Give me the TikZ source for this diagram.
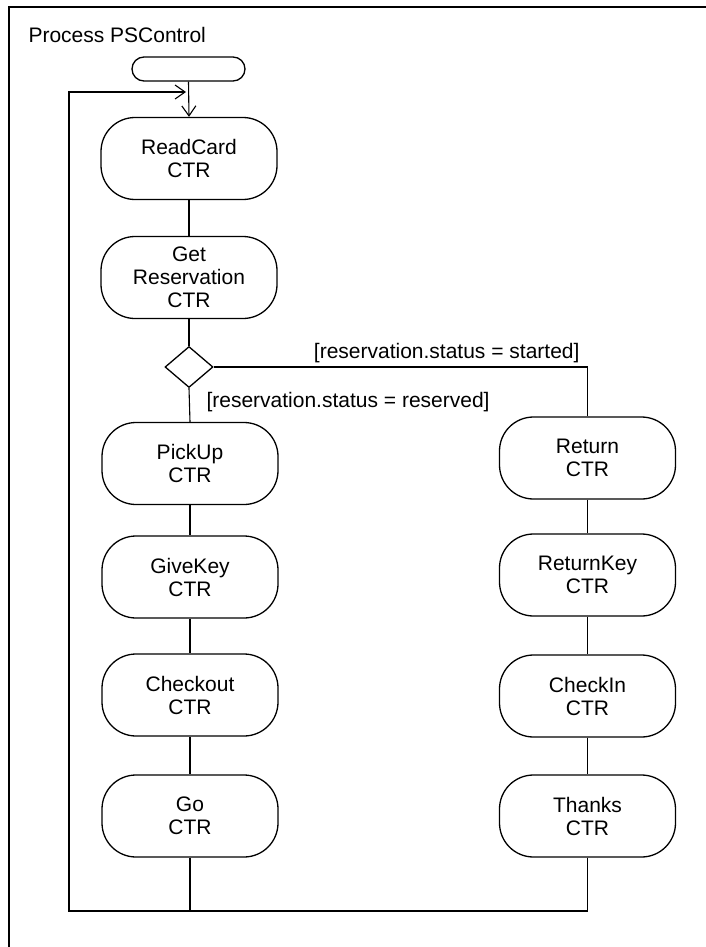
\documentclass[tikz,border=0pt]{standalone}
\usepackage{fontspec}
\setmainfont{Liberation Sans}
\usetikzlibrary{shapes.geometric,arrows.meta}
\begin{document}
\begin{tikzpicture}[x=1pt,y=-1pt,
  txt/.style={font=\fontsize{21}{23}\selectfont},
  act/.style={draw,line width=1.3pt,rounded corners=34pt,minimum width=176pt,minimum height=82pt,align=center,inner sep=0pt,txt},
  conn/.style={line width=1.1pt},
  arr/.style={line width=1.1pt,-{Straight Barb[length=10pt,width=14pt,line width=1.1pt]}}]
\useasboundingbox (0,0) rectangle (706,947);
\draw[line width=2pt] (9,947) -- (9,7) -- (706,7);
\node[txt,anchor=base west] (title) at (25,43) {Process PSControl};
\node[draw,line width=1.3pt,rounded corners=12pt,minimum width=113pt,minimum height=24pt,inner sep=0pt] (start) at (188.5,69) {};
\node[act] (readcard) at (189,158.5) {ReadCard\\CTR};
\node[act] (getres) at (189,277.5) {Get\\Reservation\\CTR};
\node[draw,line width=1.3pt,diamond,aspect=1.17,minimum width=48pt,minimum height=41pt,inner sep=0pt] (dec) at (189,367) {};
\node[act] (pickup) at (190,463.5) {PickUp\\CTR};
\node[act] (givekey) at (190,577) {GiveKey\\CTR};
\node[act] (checkout) at (190,695) {Checkout\\CTR};
\node[act] (go) at (190,816) {Go\\CTR};
\node[act] (return) at (587.5,458) {Return\\CTR};
\node[act] (returnkey) at (587.5,575) {ReturnKey\\CTR};
\node[act] (checkin) at (587.5,696) {CheckIn\\CTR};
\node[act] (thanks) at (587.5,816) {Thanks\\CTR};
\node[txt,anchor=base east] (lstarted) at (583,358) {[reservation.status = started]};
\node[txt,anchor=base west] (lreserved) at (203,407) {[reservation.status = reserved]};
\coordinate (bl) at (69,911);
\coordinate (tl) at (69,92);
\coordinate (ain) at (186,92);
\draw[arr] (start.south) -- (readcard.north);
\draw[conn] (readcard.south) -- (getres.north);
\draw[conn] (getres.south) -- (dec.north);
\draw[conn] (dec.south) -- (pickup.north);
\draw[conn] (dec.east) -| (return.north);
\draw[conn] (pickup.south) -- (givekey.north);
\draw[conn] (givekey.south) -- (checkout.north);
\draw[conn] (checkout.south) -- (go.north);
\draw[conn] (return.south) -- (returnkey.north);
\draw[conn] (returnkey.south) -- (checkin.north);
\draw[conn] (checkin.south) -- (thanks.north);
\draw[conn] (go.south) -- (go.south |- bl);
\draw[arr] (thanks.south) -- (thanks.south |- bl) -- (bl) -- (tl) -- (ain);
\end{tikzpicture}
\end{document}
